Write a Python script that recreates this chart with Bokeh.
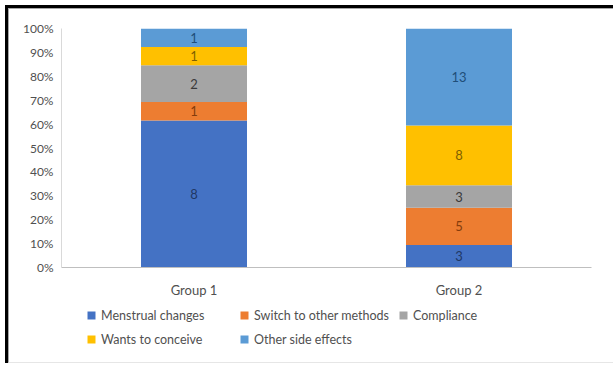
from bokeh.plotting import figure
from bokeh.layouts import column
from bokeh.models import (ColumnDataSource, FactorRange, NumeralTickFormatter,
                          FixedTicker, Legend, LegendItem, Range1d)
from bokeh.core.properties import value
from bokeh.embed import file_html
from bokeh.resources import INLINE

# Reasons for discontinuation, counts per group
groups = ["Group 1", "Group 2"]
reasons = ["Menstrual changes", "Switch to other methods", "Compliance",
           "Wants to conceive", "Other side effects"]
menstrual_changes = [8, 3]
switch_methods = [1, 5]
compliance = [2, 3]
wants_to_conceive = [1, 8]
other_side_effects = [1, 13]

counts = [menstrual_changes, switch_methods, compliance, wants_to_conceive, other_side_effects]
fill_colors = ["#4472C4", "#ED7D31", "#A5A5A5", "#FFC000", "#5B9BD5"]
label_colors = ["#1F3864", "#843C0C", "#3A3A3A", "#7F6000", "#1F4E79"]
keys = ["r%d" % i for i in range(len(reasons))]

FONT = "Lato"
GRAY_TEXT = "#505050"

# shares of each reason within a group (100% stacked)
totals = [sum(c[g] for c in counts) for g in range(len(groups))]
data = {"group": groups}
for k, c in zip(keys, counts):
    data[k] = [c[g] / totals[g] for g in range(len(groups))]
source = ColumnDataSource(data)

# ---- chart ----
p = figure(x_range=FactorRange(*groups), y_range=(0, 1),
           width=605, height=291, output_backend="svg", toolbar_location=None,
           min_border_left=52, min_border_right=23, min_border_top=19,
           min_border_bottom=31)
p.styles = {"border-top": "1px solid #A6A6A6", "border-left": "1px solid #A6A6A6"}
p.outline_line_color = None
p.background_fill_color = "white"
p.border_fill_color = "white"
p.xgrid.grid_line_color = None
p.ygrid.grid_line_color = None

p.vbar_stack(keys, x="group", width=0.4, color=fill_colors,
             line_color=None, source=source)

# segment value labels
lx, ly, lt, lc = [], [], [], []
for g in range(len(groups)):
    base = 0.0
    for i, c in enumerate(counts):
        share = c[g] / totals[g]
        lx.append(groups[g])
        ly.append(base + share / 2)
        lt.append(str(c[g]))
        lc.append(label_colors[i])
        base += share
p.text(x="x", y="y", text="t", text_color="c",
       source=ColumnDataSource(dict(x=lx, y=ly, t=lt, c=lc)),
       text_align="center", text_baseline="middle",
       text_font=value(FONT), text_font_size="13px")

# axes
p.yaxis.ticker = FixedTicker(ticks=[i / 10 for i in range(11)])
p.yaxis.formatter = NumeralTickFormatter(format="0%")
for ax in (p.xaxis, p.yaxis):
    ax.major_tick_line_color = None
    ax.minor_tick_line_color = None
    ax.major_tick_out = 0
    ax.major_tick_in = 0
    ax.minor_tick_out = 0
    ax.major_label_text_font = FONT
    ax.major_label_text_color = GRAY_TEXT
p.yaxis.major_label_text_font_size = "12px"
p.xaxis.major_label_text_font_size = "13px"
p.yaxis.axis_line_color = "#D9D9D9"
p.yaxis.major_label_standoff = 8
p.xaxis.axis_line_color = "#BFBFBF"
p.xaxis.major_label_standoff = 14

# ---- legend strip ----
lg = figure(width=605, height=64, output_backend="svg", toolbar_location=None,
            x_range=Range1d(1, 2), y_range=Range1d(1, 2),
            x_axis_location=None, y_axis_location=None, min_border=0)
lg.styles = {"border-left": "1px solid #A6A6A6", "border-bottom": "1px solid #E6E6E6"}
lg.outline_line_color = None
lg.xgrid.grid_line_color = None
lg.ygrid.grid_line_color = None
lg.background_fill_color = "white"
lg.border_fill_color = "white"

# swatch renderers sit outside the visible range; only their legend squares show
swatches = [lg.scatter([0], [0], marker="square", size=8, fill_color=c, line_color=None)
            for c in fill_colors]
legend = Legend(items=[LegendItem(label=n, renderers=[s]) for n, s in zip(reasons, swatches)],
                location=(20, 14), orientation="horizontal", ncols=3,
                padding=0, margin=0, spacing=4,
                border_line_color=None, background_fill_alpha=0,
                glyph_width=20, glyph_height=20, label_standoff=0,
                label_height=20, label_width=129,
                label_text_font=FONT, label_text_font_size="12.5px",
                label_text_color=GRAY_TEXT)
lg.add_layout(legend, "center")

page = column(p, lg, spacing=0)
page.margin = (5, 0, 0, 5)
page.styles = {"border-top": "3px solid black", "border-left": "3px solid black"}

open("out.html", "w").write(file_html(page, INLINE))
